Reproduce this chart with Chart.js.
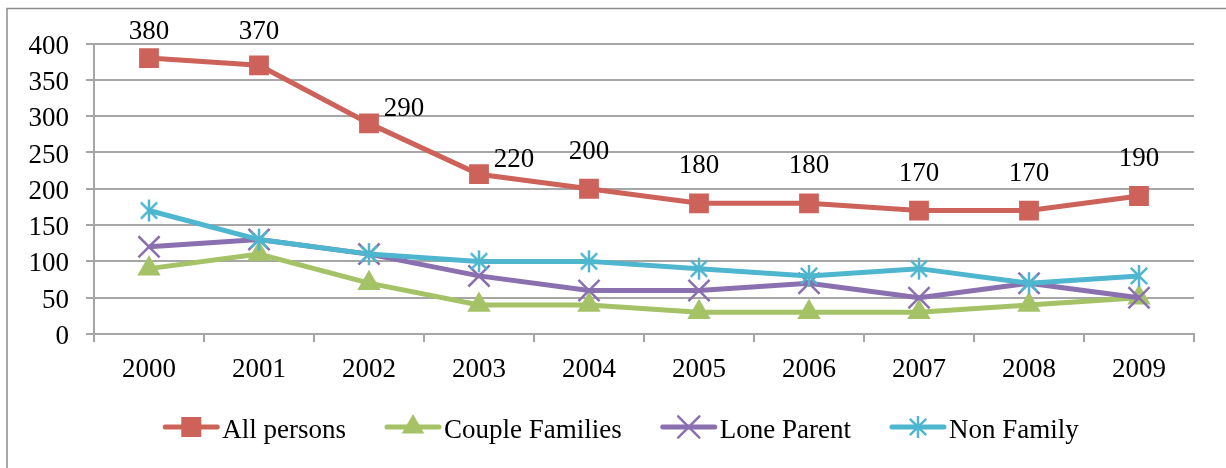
<!DOCTYPE html>
<html>
<head>
<meta charset="utf-8">
<script src="https://cdn.jsdelivr.net/npm/chart.js@4/dist/chart.umd.min.js"></script>
<style>
  html, body { margin: 0; padding: 0; background: #ffffff; }
  #wrap { position: relative; width: 1226px; height: 468px; overflow: hidden; }
  canvas { display: block; }
</style>
</head>
<body>
<div id="wrap"><canvas id="c" width="1226" height="468"></canvas></div>
<script>
// ---- data ----
const categories = ['2000','2001','2002','2003','2004','2005','2006','2007','2008','2009'];
const allPersons = [380, 370, 290, 220, 200, 180, 180, 170, 170, 190];
const coupleFamilies = [90, 110, 70, 40, 40, 30, 30, 30, 40, 50];
const loneParent = [120, 130, 110, 80, 60, 60, 70, 50, 70, 50];
const nonFamily = [170, 130, 110, 100, 100, 90, 80, 90, 70, 80];
const seriesNames = ['All persons', 'Couple Families', 'Lone Parent', 'Non Family'];
const yTicks = [0, 50, 100, 150, 200, 250, 300, 350, 400];
// label placement for the All persons data labels
const labelPlacement = ['above','above','right','right','above','above','above','above','above','above'];

const FONT = '"Liberation Serif", "DejaVu Serif", serif';
const FS = 27;
const GRID = '#a6a6a6';
const RED = '#cd625b', GREEN = '#a5c266', PURPLE = '#8b70b0', CYAN = '#4eb6ce';

// asterisk marker (vertical bar + X)
function makeStar(color, size, lw) {
  const cv = document.createElement('canvas');
  cv.width = size; cv.height = size;
  const g = cv.getContext('2d');
  const c = size / 2, r = size / 2 - 1;
  g.strokeStyle = color; g.lineWidth = lw; g.lineCap = 'butt';
  g.beginPath();
  g.moveTo(c, c - r); g.lineTo(c, c + r);
  const d = r * Math.SQRT1_2 * 1.05;
  g.moveTo(c - d, c - d); g.lineTo(c + d, c + d);
  g.moveTo(c - d, c + d); g.lineTo(c + d, c - d);
  g.stroke();
  return cv;
}
const starImg = makeStar(CYAN, 24, 2.5);

function drawMarker(ctx, kind, color, x, y) {
  ctx.save();
  ctx.fillStyle = color; ctx.strokeStyle = color;
  if (kind === 'rect') {
    ctx.fillRect(x - 10, y - 10, 20, 20);
  } else if (kind === 'triangle') {
    const r = 13;
    ctx.beginPath();
    ctx.moveTo(x, y - r);
    ctx.lineTo(x + r * Math.sin(2 * Math.PI / 3), y - r * Math.cos(2 * Math.PI / 3));
    ctx.lineTo(x + r * Math.sin(4 * Math.PI / 3), y - r * Math.cos(4 * Math.PI / 3));
    ctx.closePath(); ctx.fill();
  } else if (kind === 'crossRot') {
    const d = 15 * Math.SQRT1_2;
    ctx.lineWidth = 2.5;
    ctx.beginPath();
    ctx.moveTo(x - d, y - d); ctx.lineTo(x + d, y + d);
    ctx.moveTo(x - d, y + d); ctx.lineTo(x + d, y - d);
    ctx.stroke();
  } else if (kind === 'star') {
    ctx.drawImage(starImg, x - 12, y - 12);
  }
  ctx.restore();
}

const markerKinds = ['rect', 'triangle', 'crossRot', 'star'];
const colors = [RED, GREEN, PURPLE, CYAN];

const framePlugin = {
  id: 'frame',
  beforeDraw(chart) {
    const ctx = chart.ctx;
    ctx.save();
    ctx.strokeStyle = '#8c8c8c';
    ctx.lineWidth = 1.5;
    ctx.strokeRect(7, 8.5, 1400, 700);
    ctx.restore();
  }
};

const dataLabelPlugin = {
  id: 'dataLabels',
  afterDatasetsDraw(chart) {
    const ctx = chart.ctx;
    const meta = chart.getDatasetMeta(0);
    ctx.save();
    ctx.font = FS + 'px ' + FONT;
    ctx.fillStyle = '#000';
    ctx.textBaseline = 'middle';
    meta.data.forEach((pt, i) => {
      const txt = String(allPersons[i]);
      let x = pt.x, y;
      if (labelPlacement[i] === 'right') {
        x = pt.x + 35; y = pt.y - 14;
      } else {
        y = Math.max(pt.y - 37, 32);
      }
      ctx.textAlign = 'center';
      ctx.fillText(txt, x, y);
    });
    ctx.restore();
  }
};

const legendPlugin = {
  id: 'customLegend',
  afterDraw(chart) {
    const ctx = chart.ctx;
    ctx.save();
    ctx.font = FS + 'px ' + FONT;
    const lineLen = 56, gapText = 3, gapItem = 39;
    const widths = seriesNames.map(n => lineLen + gapText + ctx.measureText(n).width);
    const total = widths.reduce((a, b) => a + b, 0) + gapItem * (seriesNames.length - 1);
    let x = 621 - total / 2;
    const ly = 427;
    seriesNames.forEach((n, i) => {
      ctx.strokeStyle = colors[i];
      ctx.lineWidth = 5;
      ctx.lineCap = 'round';
      ctx.beginPath();
      ctx.moveTo(x + 2, ly); ctx.lineTo(x + lineLen - 2, ly);
      ctx.stroke();
      drawMarker(ctx, markerKinds[i], colors[i], x + lineLen / 2, ly);
      ctx.fillStyle = '#000';
      ctx.textAlign = 'left';
      ctx.textBaseline = 'alphabetic';
      ctx.fillText(n, x + lineLen + gapText, 438);
      x += widths[i] + gapItem;
    });
    ctx.restore();
  }
};

const seriesData = [allPersons, coupleFamilies, loneParent, nonFamily];
const datasets = seriesNames.map((name, i) => ({
  label: name,
  data: seriesData[i],
  borderColor: colors[i],
  backgroundColor: colors[i],
  borderWidth: 5,
  tension: 0,
  pointStyle: markerKinds[i] === 'star' ? starImg : markerKinds[i],
  pointRadius: markerKinds[i] === 'rect' ? 14 : (markerKinds[i] === 'triangle' ? 13.5 : 15),
  pointBorderWidth: markerKinds[i] === 'crossRot' ? 2.5 : 0,
  pointBackgroundColor: colors[i],
  pointBorderColor: colors[i],
  order: 4 - i
}));

new Chart(document.getElementById('c'), {
  type: 'line',
  data: { labels: categories, datasets },
  options: {
    responsive: false,
    animation: false,
    events: [],
    layout: { padding: { left: 0, right: 32, top: 43.5, bottom: 74 } },
    plugins: { legend: { display: false }, tooltip: { enabled: false } },
    scales: {
      x: {
        type: 'category',
        offset: true,
        grid: { offset: true, drawOnChartArea: false, drawTicks: true, tickLength: 8, color: GRID, lineWidth: 2 },
        border: { display: true, color: GRID, width: 2 },
        ticks: { font: { family: FONT, size: FS }, color: '#000', padding: 12, maxRotation: 0, autoSkip: false },
        afterFit(s) { s.height = 60; }
      },
      y: {
        min: 0, max: 400,
        afterBuildTicks(s) { s.ticks = yTicks.map(v => ({ value: v })); },
        grid: { color: GRID, lineWidth: 2, tickLength: 8, drawTicks: true },
        border: { display: true, color: GRID, width: 2 },
        ticks: { font: { family: FONT, size: FS }, color: '#000', padding: 17, labelOffset: 3 },
        afterFit(s) { s.width = 94; }
      }
    }
  },
  plugins: [framePlugin, dataLabelPlugin, legendPlugin]
});
</script>
</body>
</html>
